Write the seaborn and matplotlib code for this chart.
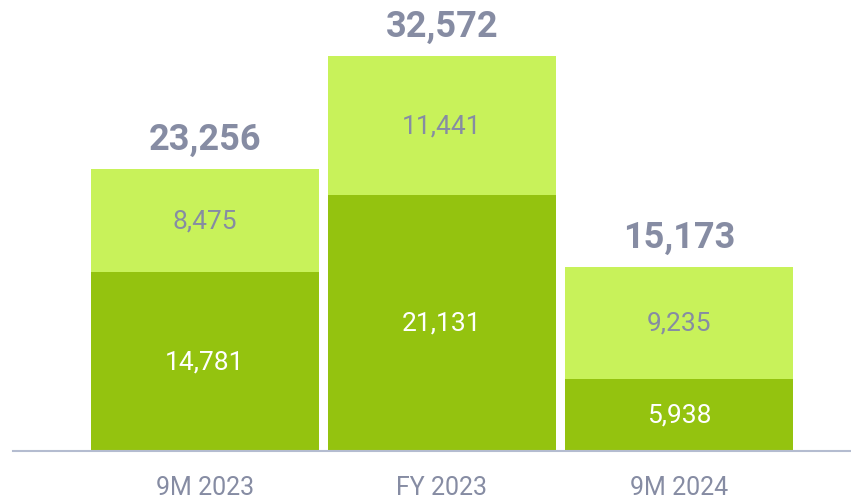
import matplotlib.pyplot as plt
import numpy as np
import pandas as pd
import seaborn as sns

periods = ["9M 2023", "FY 2023", "9M 2024"]
bottom_vals = [14781, 21131, 5938]
top_vals = [8475, 11441, 9235]
totals = [23256, 32572, 15173]

dark_green = "#94c30f"
light_green = "#c8f25a"
grey_text = "#868ca3"
axis_grey = "#b4bcd0"

sns.set_theme(style="white")
plt.rcParams["font.family"] = ["Roboto", "DejaVu Sans"]

df = pd.DataFrame({"period": periods, "bottom": bottom_vals, "top": top_vals, "total": totals})

fig = plt.figure(figsize=(8.51, 5.02), dpi=100)
ax = fig.add_axes([13 / 851, 50 / 502, 838 / 851, 452 / 502])

sns.barplot(data=df, x="period", y="total", color=light_green, width=0.96,
            saturation=1, ax=ax, linewidth=0)
sns.barplot(data=df, x="period", y="bottom", color=dark_green, width=0.96,
            saturation=1, ax=ax, linewidth=0)

for i, row in df.iterrows():
    ax.text(i, row["bottom"] / 2, f"{row['bottom']:,}", ha="center", va="center",
            color="white", fontsize=19)
    ax.text(i, row["bottom"] + row["top"] / 2, f"{row['top']:,}", ha="center",
            va="center", color=grey_text, fontsize=19)
    ax.text(i, row["total"] + 2500, f"{row['total']:,}", ha="center", va="center",
            color=grey_text, fontsize=26, fontweight="semibold")

ax.set_xlim(-0.81, 2.726)
ax.set_ylim(0, 37264)
ax.set_xlabel("")
ax.set_ylabel("")
ax.set_yticks([])
ax.tick_params(axis="x", length=0, pad=17, labelsize=18, colors=grey_text)
for s in ["top", "right", "left"]:
    ax.spines[s].set_visible(False)
ax.spines["bottom"].set_color(axis_grey)
ax.spines["bottom"].set_linewidth(1.5)

fig.savefig("out.png", dpi=100)
